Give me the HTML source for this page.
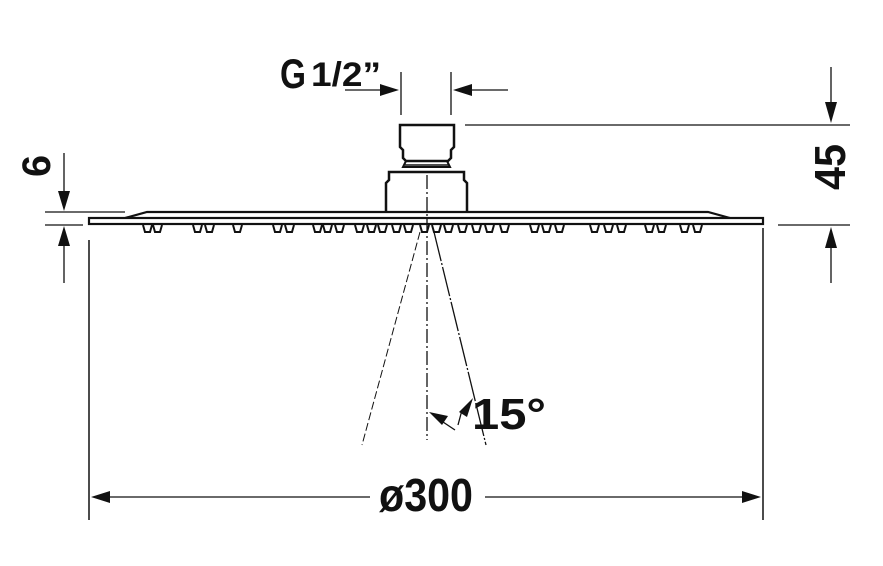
<!DOCTYPE html>
<html><head><meta charset="utf-8"><style>
html,body{margin:0;padding:0;background:#fff;width:883px;height:566px;overflow:hidden}
text{font-family:"Liberation Sans Narrow","Liberation Sans",sans-serif;font-weight:bold;fill:#111}
</style></head><body>
<svg width="883" height="566" viewBox="0 0 883 566" xmlns="http://www.w3.org/2000/svg">
<g stroke="#111" fill="none">
<path d="M400,125 H454 V147 L451,150 V158 L448,161 H406 L403,158 V150 L400,147 Z" stroke-width="2.5"/>
<path d="M406,161 L403,167 H450 L447,161" stroke-width="2"/>
<line x1="405" y1="165" x2="449" y2="165" stroke-width="1.5"/>
<path d="M386,212 V183 L389,180 V172 H464 V180 L467,183 V212" stroke-width="2.5"/>
<path d="M125,218 L147,212 H708 L730,218" stroke-width="2.2"/>
<rect x="89" y="218" width="674" height="6" stroke-width="2.2"/>
</g>
<g stroke="#111" stroke-width="2" fill="none">
<path d="M143,225 l2,7 h5 l2,-7 M153,225 l2,7 h5 l2,-7 M193,225 l2,7 h5 l2,-7 M205,225 l2,7 h5 l2,-7 M233,225 l2,7 h5 l2,-7 M273,225 l2,7 h5 l2,-7 M285,225 l2,7 h5 l2,-7 M313,225 l2,7 h5 l2,-7 M323,225 l2,7 h5 l2,-7 M335,225 l2,7 h5 l2,-7 M355,225 l2,7 h5 l2,-7 M367,225 l2,7 h5 l2,-7 M378,225 l2,7 h5 l2,-7 M392,225 l2,7 h5 l2,-7 M404,225 l2,7 h5 l2,-7 M420,225 l2,7 h5 l2,-7 M432,225 l2,7 h5 l2,-7 M444,225 l2,7 h5 l2,-7 M458,225 l2,7 h5 l2,-7 M472,225 l2,7 h5 l2,-7 M485,225 l2,7 h5 l2,-7 M500,225 l2,7 h5 l2,-7 M530,225 l2,7 h5 l2,-7 M542,225 l2,7 h5 l2,-7 M555,225 l2,7 h5 l2,-7 M590,225 l2,7 h5 l2,-7 M604,225 l2,7 h5 l2,-7 M617,225 l2,7 h5 l2,-7 M645,225 l2,7 h5 l2,-7 M657,225 l2,7 h5 l2,-7 M680,225 l2,7 h5 l2,-7 M693,225 l2,7 h5 l2,-7"/>
</g>
<g stroke="#111" fill="none">
<line x1="427" y1="175" x2="427" y2="440" stroke-width="1.3" stroke-dasharray="14,3,2,3"/>
<line x1="420" y1="232" x2="362" y2="445" stroke-width="1" stroke-dasharray="8,3"/>
<line x1="434" y1="232" x2="486" y2="445" stroke-width="1.3" stroke-dasharray="30,2,2,2"/>
<line x1="401" y1="72" x2="401" y2="115" stroke-width="1.3"/>
<line x1="451" y1="72" x2="451" y2="115" stroke-width="1.3"/>
<line x1="345" y1="90" x2="385" y2="90" stroke-width="1.3"/>
<line x1="468" y1="90" x2="508" y2="90" stroke-width="1.3"/>
<line x1="465" y1="125" x2="850" y2="125" stroke-width="1.3"/>
<line x1="778" y1="225" x2="850" y2="225" stroke-width="1.3"/>
<line x1="831" y1="67" x2="831" y2="105" stroke-width="1.3"/>
<line x1="831" y1="245" x2="831" y2="283" stroke-width="1.3"/>
<line x1="45" y1="212" x2="125" y2="212" stroke-width="1.3"/>
<line x1="45" y1="225" x2="83" y2="225" stroke-width="1.3"/>
<line x1="64" y1="153" x2="64" y2="195" stroke-width="1.3"/>
<line x1="64" y1="242" x2="64" y2="283" stroke-width="1.3"/>
<line x1="89" y1="240" x2="89" y2="520" stroke-width="1.5"/>
<line x1="763" y1="228" x2="763" y2="520" stroke-width="1.5"/>
<line x1="105" y1="497" x2="370" y2="497" stroke-width="1.3"/>
<line x1="485" y1="497" x2="748" y2="497" stroke-width="1.3"/>
<line x1="440" y1="420" x2="455" y2="430" stroke-width="1.3"/>
<line x1="462" y1="410" x2="458" y2="425" stroke-width="1.3"/>
</g>
<g fill="#111">
<polygon points="399,90 380,84 380,96"/>
<polygon points="453,90 472,84 472,96"/>
<polygon points="831,123 825,102 837,102"/>
<polygon points="831,227 825,248 837,248"/>
<polygon points="64,211 58,191 70,191"/>
<polygon points="64,226 58,246 70,246"/>
<polygon points="91,497 110,491 110,503"/>
<polygon points="761,497 742,491 742,503"/>
<polygon points="429,412 448,416 442,425"/>
<polygon points="473,398 467,417 459,412"/>
</g>
<text x="280" y="88" font-size="42" textLength="26" lengthAdjust="spacingAndGlyphs">G</text>
<text x="311" y="86" font-size="34" textLength="70" lengthAdjust="spacingAndGlyphs">1/2”</text>
<text x="845" y="190" font-size="44" transform="rotate(-90 845 190)" textLength="46" lengthAdjust="spacingAndGlyphs">45</text>
<text x="50" y="177" font-size="40" transform="rotate(-90 50 177)" textLength="22" lengthAdjust="spacingAndGlyphs">6</text>
<text x="472" y="429" font-size="44" textLength="74" lengthAdjust="spacingAndGlyphs">15°</text>
<text x="379" y="511" font-size="46" textLength="94" lengthAdjust="spacingAndGlyphs">ø300</text>
</svg>
</body></html>
